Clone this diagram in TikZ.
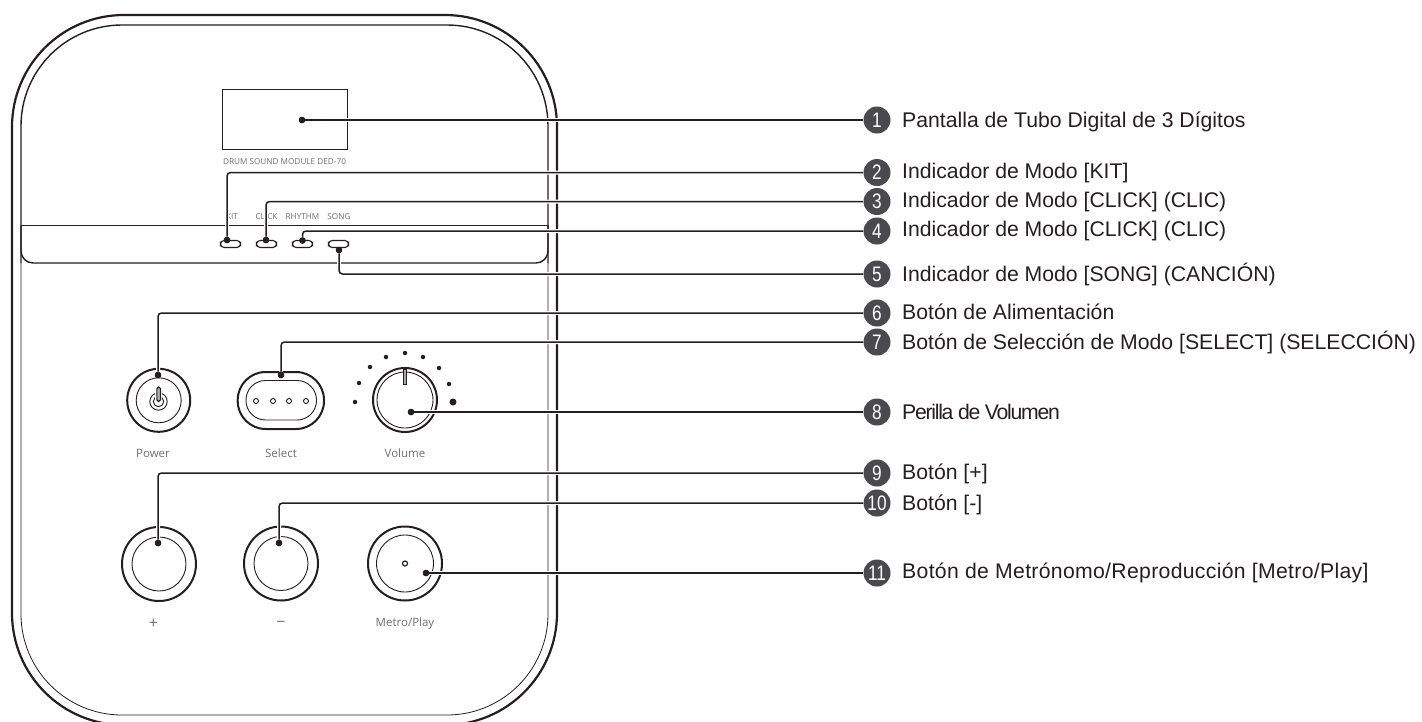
\documentclass[tikz,border=0pt]{standalone}
\usepackage{fontspec}
\setmainfont{Liberation Sans}
\newfontfamily\labfont{Open Sans}
\definecolor{ink}{HTML}{231F20}
\definecolor{badge}{HTML}{4A4A4C}
\definecolor{labgray}{HTML}{6E6E70}
\newcommand\bnum[1]{\scalebox{.82}[1]{#1}}
\tikzset{
  outline/.style={draw=ink,line width=2.2pt},
  hull/.style={draw=ink,line width=1.4pt},
  hullthin/.style={draw=ink,line width=0.8pt},
  thinline/.style={draw=ink,line width=0.8pt},
  ring/.style={draw=ink,line width=2pt,circle,inner sep=0pt,minimum size=#1},
  innerring/.style={draw=ink,line width=0.9pt,circle,inner sep=0pt,minimum size=#1},
  tiny/.style={draw=ink,line width=0.9pt,circle,inner sep=0pt,minimum size=5pt},
  pill/.style={draw=ink,line width=1.1pt,rounded corners=3.6pt},
  tick/.style={fill=ink,circle,inner sep=0pt,minimum size=#1},
  anchorpt/.style={fill=ink,circle,inner sep=0pt,minimum size=6.5pt},
  badgec/.style={fill=badge,circle,inner sep=0pt,minimum size=27pt,text=white,font=\fontsize{21}{21}\selectfont},
  leader/.style={draw=ink,line width=1.5pt,rounded corners=3.5pt,
    preaction={draw=white,line width=4pt}},
  desc/.style={anchor=base west,inner sep=0pt,font=\fontsize{21.2}{23}\selectfont,text=ink},
  panlab/.style={inner sep=0pt,text=labgray,font=\labfont\fontsize{8.2}{9}\selectfont},
  ctrllab/.style={inner sep=0pt,text=labgray,font=\labfont\fontsize{11.5}{12}\selectfont},
  signlab/.style={inner sep=0pt,text=labgray,font=\labfont\fontsize{16}{16}\selectfont},
}
\begin{document}
\begin{tikzpicture}[x=1pt,y=-1pt]
\useasboundingbox (0,0) rectangle (1422,721);
\clip (0,0) rectangle (1422,721);
% body
\draw[outline,rounded corners=112pt] (12,15) rectangle (557,725);
\draw[hull,rounded corners=101pt] (21,263) -- (21,25) -- (548,25) -- (548,263);
\draw[hullthin,rounded corners=101pt] (21,263) -- (21,715) -- (548,715) -- (548,263);
\draw[thinline] (21,225) -- (548,225);
\draw[hull,rounded corners=12pt] (21,225) -- (21,263) -- (548,263) -- (548,225);
% display
\node[draw=ink,line width=1pt,minimum width=125pt,minimum height=60pt,inner sep=0pt] (screen) at (284.5,119) {};
\node[panlab] (model) at (284.5,161.5) {DRUM SOUND MODULE DED-70};
% mode labels
\node[panlab] (lkit) at (232,217) {KIT};
\node[panlab] (lclick) at (266.5,217) {CLICK};
\node[panlab] (lrhythm) at (302.5,217) {RHYTHM};
\node[panlab] (lsong) at (339,217) {SONG};
% LEDs
\draw[pill] (220.5,240.5) rectangle (240.5,247.5);
\draw[pill] (256.5,240.5) rectangle (276.5,247.5);
\draw[pill] (292.5,240.5) rectangle (312.5,247.5);
\draw[pill] (328.5,240.5) rectangle (348.5,247.5);
% power
\node[ring=63pt] (power) at (158.7,400.3) {};
\node[innerring=45pt] (powerin) at (158.7,400.3) {};
\draw[ink,line width=0.9pt] (158.5,401.5) circle (8.7pt);
\draw[ink,line width=0.9pt] (158.5,401.5) circle (5.2pt);
\draw[draw=white,fill=white,line width=0.8pt] (155.7,386) rectangle (161.7,402.5);
\draw[draw=ink,fill=ink!35,line width=1.1pt,rounded corners=1.6pt] (156.9,387) rectangle (160.5,401.5);
% select
\draw[draw=ink,line width=2pt,rounded corners=28pt] (237.7,372) rectangle (324,429);
\draw[draw=ink,line width=0.9pt,rounded corners=19.5pt] (246,380.5) rectangle (316.5,420);
\node[tiny] (s1) at (256,401) {};
\node[tiny] (s2) at (273,401) {};
\node[tiny] (s3) at (289,401) {};
\node[tiny] (s4) at (306,401) {};
% volume
\node[ring=64pt] (vol) at (405,400) {};
\node[innerring=56pt] (volin) at (405,400) {};
\draw[draw=ink,fill=labgray!60,line width=0.7pt] (403.4,369) rectangle (406.6,384);
\foreach \i/\px/\py in {1/355/402,2/359/383,3/370/367,4/386/357,5/405/353,6/423/357,7/439/368,8/449/384}
  \node[tick=4.5pt] (tk\i) at (\px,\py) {};
\node[tick=7pt] (tk9) at (453,402) {};
% bottom buttons
\node[ring=74pt] (plus) at (159,564) {};
\node[innerring=54pt] (plusin) at (159,564) {};
\node[ring=74pt] (minus) at (281,563.5) {};
\node[innerring=54pt] (minusin) at (281,563.5) {};
\node[ring=74pt] (metro) at (405,563.5) {};
\node[innerring=57pt] (metroin) at (405,563.5) {};
\node[tiny,line width=1.2pt] (metrodot) at (405,563.5) {};
% control labels
\node[ctrllab] (lpower) at (153,453) {Power};
\node[ctrllab] (lselect) at (281,453) {Select};
\node[ctrllab] (lvolume) at (405,453) {Volume};
\node[signlab] (lplus) at (153.5,624) {+};
\node[signlab] (lminus) at (281,624) {−};
\node[ctrllab] (lmetro) at (405,624) {Metro/Play};
% anchor dots
\node[anchorpt] (d1) at (302,120) {};
\node[anchorpt] (d2) at (227,240) {};
\node[anchorpt] (d3) at (266,240) {};
\node[anchorpt] (d4) at (302.5,240.5) {};
\node[anchorpt] (d5) at (339,250) {};
\node[anchorpt] (d6) at (158,375) {};
\node[anchorpt] (d7) at (281,375) {};
\node[anchorpt] (d8) at (411,412) {};
\node[anchorpt] (d9) at (158,543) {};
\node[anchorpt] (d10) at (279,543) {};
\node[anchorpt] (d11) at (426,573) {};
% badges
\node[badgec] (c1) at (877,120) {\bnum{1}};
\node[badgec] (c2) at (877,172.5) {\bnum{2}};
\node[badgec] (c3) at (877,201.5) {\bnum{3}};
\node[badgec] (c4) at (877,231) {\bnum{4}};
\node[badgec] (c5) at (877,274) {\bnum{5}};
\node[badgec] (c6) at (877,313) {\bnum{6}};
\node[badgec] (c7) at (877,342) {\bnum{7}};
\node[badgec] (c8) at (877,412) {\bnum{8}};
\node[badgec] (c9) at (877,473) {\bnum{9}};
\node[badgec] (c10) at (877,503) {\bnum{10}};
\node[badgec] (c11) at (877,573) {\bnum{11}};
% leaders
\draw[leader] (d1) -- (c1);
\draw[leader] (d2) |- (c2);
\draw[leader] (d3) |- (c3);
\draw[leader] (d4) |- (c4);
\draw[leader] (d5) |- (c5);
\draw[leader] (d6) |- (c6);
\draw[leader] (d7) |- (c7);
\draw[leader] (d8) -- (c8);
\draw[leader] (d9) |- (c9);
\draw[leader] (d10) |- (c10);
\draw[leader] (d11) -- (c11);
\foreach \n in {d1,d2,d3,d4,d5,d6,d7,d8,d9,d10,d11}
  \fill[ink] (\n) circle (3.2pt);
% descriptions
\node[desc] (t1) at (902,127.5) {Pantalla de Tubo Digital de 3 Dígitos};
\node[desc] (t2) at (902,178) {Indicador de Modo [KIT]};
\node[desc] (t3) at (902,207) {Indicador de Modo [CLICK] (CLIC)};
\node[desc] (t4) at (902,236.5) {Indicador de Modo [CLICK] (CLIC)};
\node[desc] (t5) at (902,281) {Indicador de Modo [SONG] (CANCIÓN)};
\node[desc] (t6) at (902,319) {Botón de Alimentación};
\node[desc] (t7) at (902,349) {Botón de Selección de Modo [SELECT] (SELECCIÓN)};
\node[desc] (t8) at (902,419) {\addfontfeature{LetterSpace=-6}Perilla de Volumen};
\node[desc] (t9) at (902,479) {Botón [+]};
\node[desc] (t10) at (902,510) {Botón [-]};
\node[desc] (t11) at (902,578) {\addfontfeature{LetterSpace=1.5}Botón de Metrónomo/Reproducción [Metro/Play]};
\end{tikzpicture}
\end{document}
